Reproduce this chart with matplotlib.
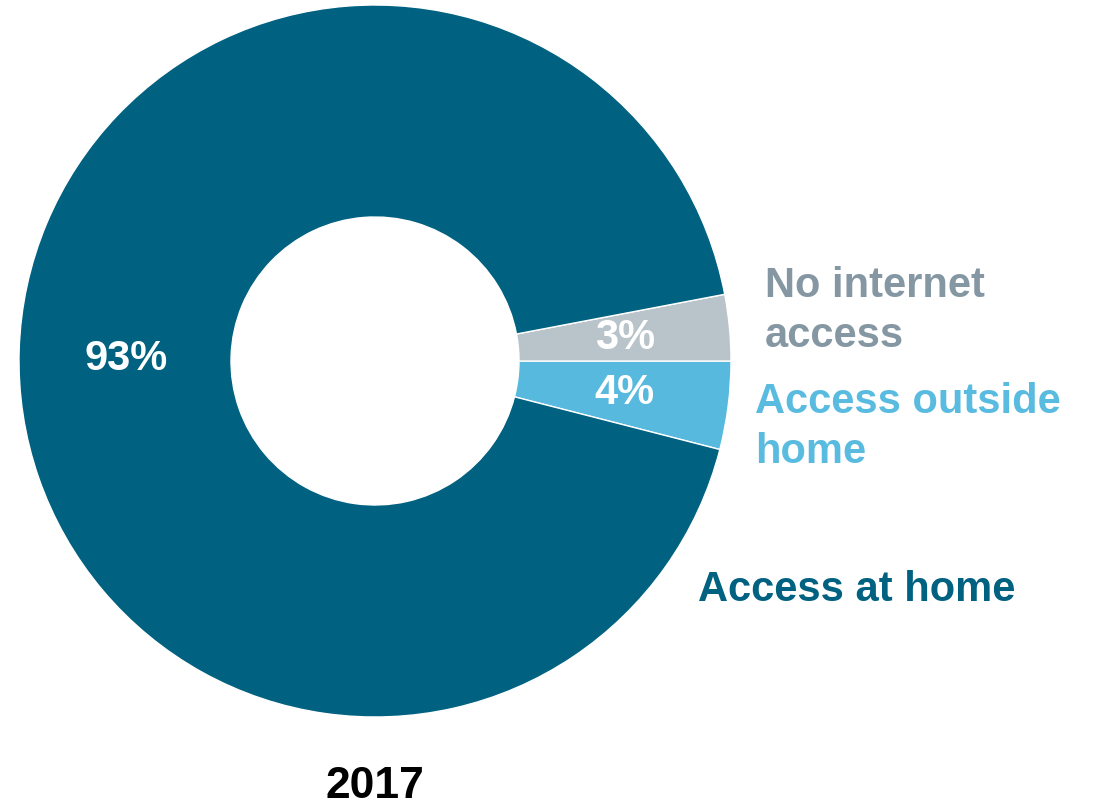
import matplotlib.pyplot as plt

# Internet access share, 2017
labels = ['Access outside\nhome', 'No internet\naccess', 'Access at home']
shares = [4, 3, 93]
slice_colors = ['#57b9de', '#b8c3ca', '#006180']
label_colors = ['#5abbe0', '#8597a3', '#006180']
year = '2017'

plt.rcParams['font.family'] = ['Liberation Sans', 'DejaVu Sans']

fig = plt.figure(figsize=(10.94, 8.10), dpi=100)
ax = fig.add_axes([0, 0, 1, 1])

# work in pixel-like units, y measured upward
cx, cy, r = 375, 810 - 361, 356
wedges, _, pcts = ax.pie(
    shares, colors=slice_colors, startangle=-14.4, counterclock=True,
    radius=r, center=(cx, cy), autopct='%d%%', pctdistance=0.705,
    wedgeprops=dict(width=r - 144, edgecolor='white', linewidth=1),
    textprops=dict(color='white', fontsize=30, fontweight='bold'),
)
# nudge the big label slightly down
x, y = pcts[2].get_position()
pcts[2].set_position((x + 2, y - 6))
for t in pcts[:2]:
    t.set_y(t.get_position()[1] - 1)

ax.set_xlim(0, 1094)
ax.set_ylim(0, 810)
ax.set_aspect('equal')
ax.axis('off')

label_pos = [(755, 810 - 427), (765, 810 - 311), (698, 810 - 590)]
for text, color, (x, y) in zip(labels, label_colors, label_pos):
    ax.text(x, y, text, color=color, fontsize=30, fontweight='bold',
            ha='left', va='center', linespacing=1.32)

ax.text(cx, 810 - 787, year, color='black', fontsize=32, fontweight='bold',
        ha='center', va='center')

fig.savefig('out.png', dpi=100)
